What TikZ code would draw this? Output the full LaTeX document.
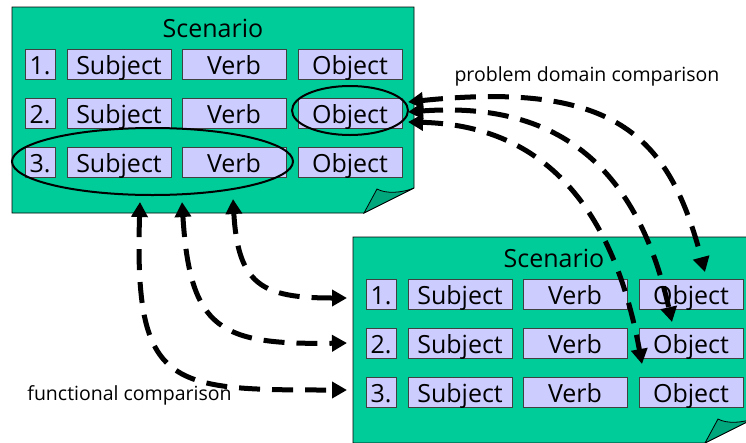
\documentclass[tikz,border=0pt]{standalone}
\usepackage{fontspec}
\setmainfont{Open Sans}
\usetikzlibrary{arrows.meta,shapes.geometric}
\definecolor{pagegreen}{RGB}{0,204,153}
\definecolor{flapgreen}{RGB}{0,166,124}
\definecolor{boxblue}{RGB}{204,204,255}
\tikzset{
  sheet/.style={fill=pagegreen, draw=black, line width=0.8pt, line join=miter},
  flap/.style={fill=flapgreen, draw=black, line width=0.8pt},
  cell/.style={draw=black!75, line width=0.8pt, fill=boxblue, inner sep=0pt,
    minimum height=30pt, text height=22pt, text depth=2pt,
    font=\fontsize{25}{30}\selectfont},
  numcell/.style={cell, minimum width=30pt},
  wordcell/.style={cell, minimum width=104pt},
  heading/.style={anchor=base, inner sep=0pt, font=\fontsize{25}{30}\selectfont},
  ring/.style={draw, ellipse, line width=2pt, inner sep=0pt},
  link/.style={line width=5pt, dash pattern=on 21pt off 12pt,
    {Triangle[length=15pt,width=16pt]}-{Triangle[length=15pt,width=16pt]}},
  caption/.style={anchor=base, inner sep=0pt, font=\fontsize{19.5}{23}\selectfont}
}
% One scenario sheet: folded page, title and three numbered sentence rows
\newcommand\scenariopage[1]{%
  \draw[sheet] (12,7) -- (414,7) -- (414,188) -- (364,213) -- (12,213) -- cycle;
  \draw[flap] (364,213) -- (377,189) .. controls (386,194) and (402,193) .. (414,188) -- cycle;
  \node[heading] (#1-title) at (213,37) {Scenario};
  \foreach \r/\y in {1/64,2/113,3/162}{
    \node[numcell]  (#1-n\r) at (40,\y)  {\r.};
    \node[wordcell] (#1-s\r) at (119,\y) {Subject};
    \node[wordcell] (#1-v\r) at (234,\y) {Verb};
    \node[wordcell] (#1-o\r) at (350,\y) {Object};
  }%
}
\begin{document}
\begin{tikzpicture}[x=1pt,y=-1pt]
\useasboundingbox (0,0) rectangle (746,442);
\begin{scope}
\clip (0,0) rectangle (746,442);

% upper scenario with the two highlighted groups
\scenariopage{T}
\node[ring, minimum width=116pt, minimum height=49pt] (objring) at (350,110.5) {};
\node[ring, minimum width=281pt, minimum height=67pt] (svring) at (152.5,161.5) {};

% lower scenario
\begin{scope}[shift={(341,230)}]
\scenariopage{B}
\end{scope}

% end points of the comparison links
\coordinate (fa) at (140,202);
\coordinate (fb) at (182,202);
\coordinate (fc) at (233,199);
\coordinate (ga) at (347,390);
\coordinate (gb) at (347,343);
\coordinate (gc) at (347,298);
\coordinate (pa) at (408,102);
\coordinate (pb) at (408,112);
\coordinate (pc) at (408,122);
\coordinate (qa) at (705,272);
\coordinate (qb) at (672,322);
\coordinate (qc) at (642,364);

% functional comparison links
\draw[link] (fa) .. controls (134,390) and (170,390) .. (ga);
\draw[link] (fb) .. controls (190,330) and (220,345) .. (gb);
\draw[link] (fc) .. controls (238,285) and (262,298) .. (gc);

% problem domain comparison links
\draw[link] (pa) .. controls (620,80) and (670,140) .. (qa);
\draw[link] (pb) .. controls (570,100) and (640,180) .. (qb);
\draw[link] (pc) .. controls (530,125) and (610,190) .. (qc);

\node[caption] (pdlabel) at (587,81) {problem domain comparison};
\node[caption] (fclabel) at (129.5,400) {functional comparison};
\end{scope}
\end{tikzpicture}
\end{document}
